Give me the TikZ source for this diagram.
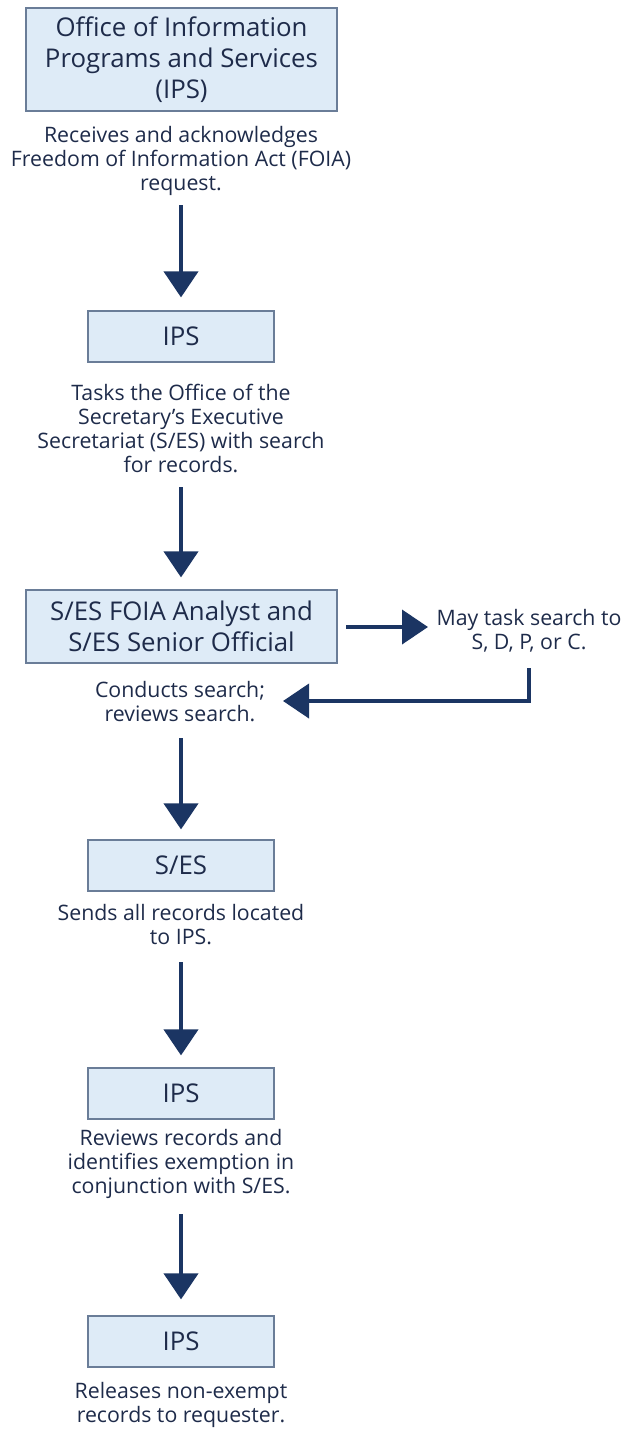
\documentclass[tikz,border=0pt]{standalone}
\usepackage{fontspec}
\setmainfont{Open Sans}
\usetikzlibrary{arrows.meta}
\definecolor{txt}{HTML}{1E2B4A}
\definecolor{navy}{HTML}{1B3563}
\definecolor{boxfill}{HTML}{DEEBF7}
\definecolor{boxline}{HTML}{6A7D98}
\tikzset{
  boxbig/.style={draw=boxline, line width=1.2pt, fill=boxfill, text=txt, align=center, inner sep=0pt, font=\fontsize{25.8}{31}\selectfont},
  boxsmall/.style={boxbig, minimum width=186pt, minimum height=51pt},
  desc/.style={text=txt, align=center, inner sep=0pt, font=\fontsize{21.3}{24}\selectfont},
  flow/.style={draw=navy, line width=4pt, -{Triangle[width=34pt,length=26pt]}},
}
\begin{document}
\begin{tikzpicture}[x=1pt,y=-1pt]
\useasboundingbox (0,0) rectangle (621,1433);
\node[boxbig, minimum width=311pt, minimum height=103pt] (b1) at (181.5,59.5) {Office of Information\\Programs and Services\\(IPS)};
\node[desc] (d1) at (181,161) {Receives and acknowledges\\Freedom of Information Act (FOIA)\\request.};
\coordinate (a1s) at (181,205);
\node[boxsmall] (b2) at (181,336.5) {IPS};
\draw[flow, shorten >=13pt] (a1s) -- (b2.north);
\node[desc] (d2) at (181,428) {Tasks the Office of the\\Secretary’s Executive\\Secretariat (S/ES) with search\\for records.};
\coordinate (a2s) at (181,487);
\node[boxbig, minimum width=311pt, minimum height=73pt] (b3) at (181.5,626.5) {S/ES FOIA Analyst and\\S/ES Senior Official};
\draw[flow, shorten >=12pt] (a2s) -- (a2s |- b3.north);
\node[desc] (side) at (529,631) {May task search to\\S, D, P, or C.};
\coordinate (rs) at (346,627);
\coordinate (re) at (428,627);
\draw[flow] (rs) -- (re);
\node[desc] (d3) at (180,701.5) {Conducts search;\\reviews search.};
\coordinate (bs) at (529,668);
\coordinate (be) at (283,701);
\draw[flow] (bs) |- (be);
\coordinate (a3s) at (181,738);
\node[boxsmall] (b4) at (181,865.5) {S/ES};
\draw[flow, shorten >=10pt] (a3s) -- (b4.north);
\node[desc] (d4) at (181,925) {Sends all records located\\to IPS.};
\coordinate (a4s) at (181,962);
\node[boxsmall] (b5) at (181,1093.5) {IPS};
\draw[flow, shorten >=12pt] (a4s) -- (b5.north);
\node[desc] (d5) at (181,1163.5) {Reviews records and\\identifies exemption in\\conjunction with S/ES.};
\coordinate (a5s) at (181,1214);
\node[boxsmall] (b6) at (181,1341.5) {IPS};
\draw[flow, shorten >=16pt] (a5s) -- (b6.north);
\node[desc] (d6) at (181,1404.5) {Releases non-exempt\\records to requester.};
\end{tikzpicture}
\end{document}
